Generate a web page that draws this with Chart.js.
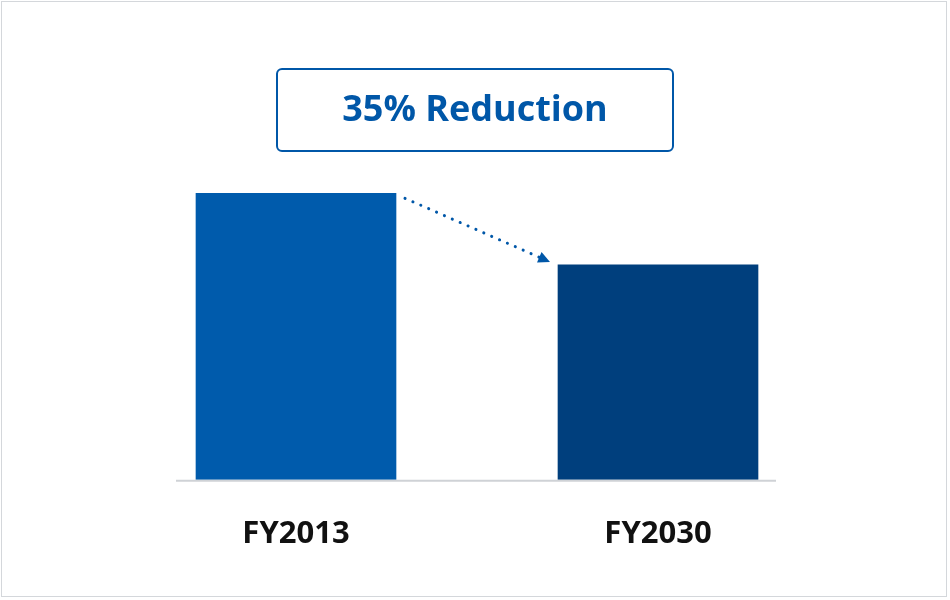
<!DOCTYPE html>
<html><head><meta charset="utf-8">
<script src="https://cdn.jsdelivr.net/npm/chart.js@4"></script>
<style>
html,body{margin:0;padding:0;background:#fff;}
#wrap{position:relative;width:950px;height:600px;}
#frame{position:absolute;left:1px;top:1px;width:946px;height:596px;border:1px solid #d4d7db;box-sizing:border-box;pointer-events:none;}
</style></head>
<body><div id="wrap"><canvas id="c" width="950" height="600"></canvas><div id="frame"></div></div>
<script>
const categories = ["FY2013", "FY2030"];
const values = [100, 75];
const barColors = ["#005bac", "#003f7d"];
const calloutText = "35% Reduction";

const annot = {
  id: 'annot',
  afterDatasetsDraw(chart) {
    const ctx = chart.ctx;
    const meta = chart.getDatasetMeta(0);
    const b1 = meta.data[0], b2 = meta.data[1];
    const base = chart.scales.y.getPixelForValue(0);
    ctx.save();
    // axis line
    ctx.strokeStyle = '#cfd2d6'; ctx.lineWidth = 2;
    ctx.beginPath(); ctx.moveTo(b1.x - b1.width / 2 - 20, base + 1); ctx.lineTo(b2.x + b2.width / 2 + 18, base + 1); ctx.stroke();
    // callout box
    const cx = 475;
    const bx = 277, by = 69, bw = 396, bh = 82;
    ctx.strokeStyle = '#0057a8'; ctx.lineWidth = 2;
    ctx.beginPath(); ctx.roundRect(bx, by, bw, bh, 5); ctx.stroke();
    ctx.fillStyle = '#0057a8';
    ctx.font = 'bold 36px "Open Sans", "Noto Sans", sans-serif';
    ctx.textAlign = 'center'; ctx.textBaseline = 'middle';
    ctx.fillText(calloutText, cx, by + bh / 2 + 1);
    // dotted arrow
    const x1 = b1.x + b1.width / 2 + 9, y1 = b1.y + 5;
    const x2 = b2.x - b2.width / 2 - 8, y2 = b2.y - 3;
    const ang = Math.atan2(y2 - y1, x2 - x1);
    const ex = x2 - 11 * Math.cos(ang), ey = y2 - 11 * Math.sin(ang);
    ctx.strokeStyle = '#0057a8'; ctx.lineWidth = 3; ctx.lineCap = 'round';
    ctx.setLineDash([0.1, 8.5]);
    ctx.beginPath(); ctx.moveTo(x1, y1); ctx.lineTo(ex, ey); ctx.stroke();
    ctx.setLineDash([]);
    ctx.beginPath();
    ctx.moveTo(x2, y2);
    ctx.lineTo(x2 - 13 * Math.cos(ang - 0.45), y2 - 13 * Math.sin(ang - 0.45));
    ctx.lineTo(x2 - 13 * Math.cos(ang + 0.45), y2 - 13 * Math.sin(ang + 0.45));
    ctx.closePath(); ctx.fill();
    ctx.restore();
  }
};

new Chart(document.getElementById('c'), {
  type: 'bar',
  data: { labels: categories, datasets: [{ data: values, backgroundColor: barColors,
    categoryPercentage: 1, barThickness: 200 }] },
  options: {
    responsive: false, animation: false,
    layout: { padding: { left: 115, right: 111, top: 136, bottom: 19 } },
    plugins: { legend: { display: false }, tooltip: { enabled: false } },
    scales: {
      y: { display: false, min: 0, max: 120 },
      x: { grid: { display: false }, border: { display: false },
        ticks: { color: '#111', padding: 28, font: { size: 31, weight: 'bold', family: '"Open Sans", "Noto Sans", sans-serif' } } }
    }
  },
  plugins: [annot]
});
</script></body></html>
